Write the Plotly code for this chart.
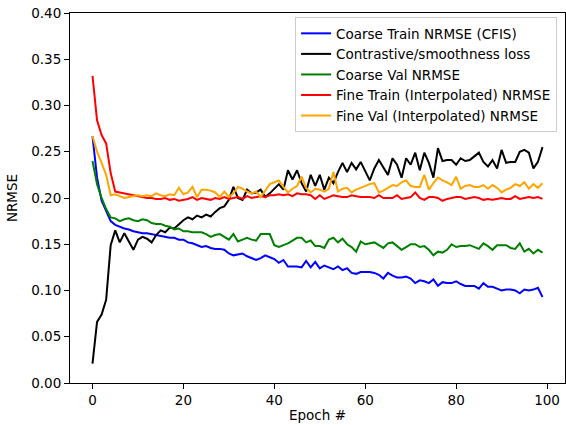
import plotly.graph_objects as go

epochs = list(range(100))

coarse_train = [0.267, 0.222, 0.197, 0.186, 0.175, 0.171, 0.169, 0.167, 0.166, 0.164,
                0.163, 0.162, 0.162, 0.161, 0.160, 0.159, 0.158, 0.157, 0.157, 0.155,
                0.155, 0.152, 0.151, 0.149, 0.147, 0.148, 0.146, 0.145, 0.145, 0.144,
                0.140, 0.138, 0.139, 0.140, 0.137, 0.135, 0.133, 0.135, 0.138, 0.136,
                0.134, 0.130, 0.133, 0.126, 0.126, 0.126, 0.125, 0.132, 0.125, 0.131,
                0.124, 0.127, 0.125, 0.123, 0.126, 0.122, 0.124, 0.119, 0.118, 0.120,
                0.120, 0.120, 0.119, 0.117, 0.113, 0.119, 0.116, 0.114, 0.114, 0.115,
                0.113, 0.108, 0.111, 0.110, 0.108, 0.112, 0.105, 0.109, 0.108, 0.108,
                0.110, 0.107, 0.105, 0.105, 0.105, 0.102, 0.108, 0.104, 0.104, 0.102,
                0.100, 0.101, 0.101, 0.100, 0.097, 0.101, 0.100, 0.101, 0.103, 0.093]

contrastive = [0.021, 0.066, 0.074, 0.090, 0.149, 0.165, 0.152, 0.162, 0.153, 0.144,
               0.155, 0.158, 0.156, 0.152, 0.160, 0.165, 0.163, 0.168, 0.167, 0.172,
               0.176, 0.179, 0.177, 0.181, 0.179, 0.182, 0.180, 0.185, 0.189, 0.191,
               0.198, 0.212, 0.200, 0.198, 0.209, 0.205, 0.206, 0.209, 0.201, 0.205,
               0.210, 0.215, 0.209, 0.230, 0.220, 0.230, 0.216, 0.207, 0.225, 0.213,
               0.225, 0.209, 0.222, 0.216, 0.228, 0.238, 0.228, 0.238, 0.231, 0.239,
               0.229, 0.219, 0.232, 0.241, 0.233, 0.225, 0.243, 0.236, 0.222, 0.243,
               0.236, 0.249, 0.230, 0.249, 0.238, 0.222, 0.254, 0.240, 0.241, 0.241,
               0.236, 0.243, 0.240, 0.241, 0.245, 0.249, 0.239, 0.234, 0.241, 0.232,
               0.252, 0.238, 0.239, 0.239, 0.250, 0.252, 0.249, 0.232, 0.239, 0.255]

coarse_val = [0.240, 0.215, 0.200, 0.188, 0.179, 0.178, 0.175, 0.177, 0.178, 0.176,
              0.175, 0.177, 0.176, 0.173, 0.172, 0.172, 0.170, 0.169, 0.166, 0.167,
              0.164, 0.164, 0.163, 0.163, 0.163, 0.161, 0.158, 0.160, 0.161, 0.158,
              0.155, 0.161, 0.153, 0.155, 0.157, 0.155, 0.154, 0.161, 0.161, 0.161,
              0.149, 0.147, 0.149, 0.151, 0.154, 0.157, 0.157, 0.152, 0.154, 0.148,
              0.148, 0.146, 0.155, 0.157, 0.152, 0.156, 0.150, 0.147, 0.142, 0.153,
              0.150, 0.151, 0.152, 0.149, 0.146, 0.151, 0.152, 0.148, 0.144, 0.147,
              0.150, 0.150, 0.147, 0.148, 0.144, 0.138, 0.142, 0.141, 0.144, 0.150,
              0.147, 0.148, 0.148, 0.149, 0.147, 0.145, 0.151, 0.148, 0.144, 0.149,
              0.149, 0.149, 0.146, 0.145, 0.151, 0.142, 0.145, 0.140, 0.144, 0.141]

fine_train = [0.332, 0.284, 0.268, 0.259, 0.227, 0.207, 0.206, 0.205, 0.204, 0.203,
              0.202, 0.201, 0.200, 0.200, 0.199, 0.199, 0.200, 0.198, 0.199, 0.197,
              0.198, 0.199, 0.201, 0.198, 0.200, 0.199, 0.198, 0.200, 0.199, 0.201,
              0.199, 0.200, 0.201, 0.199, 0.202, 0.200, 0.201, 0.202, 0.201, 0.203,
              0.203, 0.204, 0.203, 0.204, 0.202, 0.205, 0.204, 0.204, 0.203, 0.199,
              0.203, 0.199, 0.201, 0.203, 0.202, 0.201, 0.201, 0.203, 0.202, 0.201,
              0.201, 0.201, 0.200, 0.203, 0.200, 0.200, 0.200, 0.203, 0.199, 0.200,
              0.201, 0.206, 0.200, 0.198, 0.201, 0.201, 0.200, 0.197, 0.199, 0.200,
              0.201, 0.201, 0.199, 0.200, 0.201, 0.200, 0.198, 0.199, 0.198, 0.199,
              0.200, 0.199, 0.199, 0.202, 0.199, 0.200, 0.201, 0.200, 0.201, 0.199]

fine_val = [0.267, 0.250, 0.238, 0.225, 0.203, 0.204, 0.202, 0.200, 0.201, 0.202,
            0.203, 0.202, 0.203, 0.202, 0.205, 0.203, 0.202, 0.204, 0.203, 0.211,
            0.204, 0.206, 0.212, 0.201, 0.209, 0.209, 0.208, 0.206, 0.201, 0.207,
            0.201, 0.205, 0.212, 0.210, 0.207, 0.205, 0.207, 0.201, 0.208, 0.215,
            0.217, 0.219, 0.212, 0.206, 0.210, 0.213, 0.223, 0.211, 0.206, 0.210,
            0.209, 0.207, 0.210, 0.228, 0.207, 0.210, 0.211, 0.206, 0.209, 0.211,
            0.213, 0.215, 0.216, 0.206, 0.208, 0.211, 0.214, 0.213, 0.217, 0.219,
            0.213, 0.212, 0.212, 0.225, 0.209, 0.216, 0.222, 0.219, 0.217, 0.214,
            0.223, 0.210, 0.213, 0.214, 0.212, 0.212, 0.214, 0.210, 0.214, 0.211,
            0.206, 0.209, 0.211, 0.215, 0.213, 0.217, 0.210, 0.215, 0.211, 0.216]

series_names = ["Coarse Train NRMSE (CFIS)", "Contrastive/smoothness loss",
                "Coarse Val NRMSE", "Fine Train (Interpolated) NRMSE",
                "Fine Val (Interpolated) NRMSE"]
series_values = [coarse_train, contrastive, coarse_val, fine_train, fine_val]
series_colors = ["#0000ff", "#000000", "#008000", "#ff0000", "#ffa500"]

x_ticks = [0, 20, 40, 60, 80, 100]
y_ticks = [0.00, 0.05, 0.10, 0.15, 0.20, 0.25, 0.30, 0.35, 0.40]

fig = go.Figure()
for name, vals, col in zip(series_names, series_values, series_colors):
    fig.add_trace(go.Scatter(x=epochs, y=vals, mode="lines", name=name,
                             line=dict(color=col, width=2)))

axis_common = dict(showline=True, linecolor="black", linewidth=1, mirror=True,
                   ticks="outside", ticklen=5, tickcolor="black", showgrid=False,
                   zeroline=False, tickfont=dict(size=13.5, color="black"))

fig.update_layout(
    width=566, height=425,
    margin=dict(l=70, r=1, t=13, b=42),
    paper_bgcolor="white", plot_bgcolor="white",
    font=dict(family="DejaVu Sans", size=13.5, color="black"),
    xaxis=dict(range=[-4.95, 103.95], tickvals=x_ticks,
               title=dict(text="Epoch #", standoff=3, font=dict(size=13.5)),
               **axis_common),
    yaxis=dict(range=[0, 0.40], tickvals=y_ticks, tickformat=".2f",
               title=dict(text="NRMSE", standoff=10, font=dict(size=13.5)),
               **axis_common),
    legend=dict(x=0.984, y=0.989, xanchor="right", yanchor="top",
                bgcolor="rgba(255,255,255,0.8)", bordercolor="#cccccc",
                borderwidth=1, font=dict(size=13.5), itemwidth=30,
                tracegroupgap=0),
)

fig.write_html("out.html", config={"displayModeBar": False},
               post_script="document.body.style.margin='0px';")
